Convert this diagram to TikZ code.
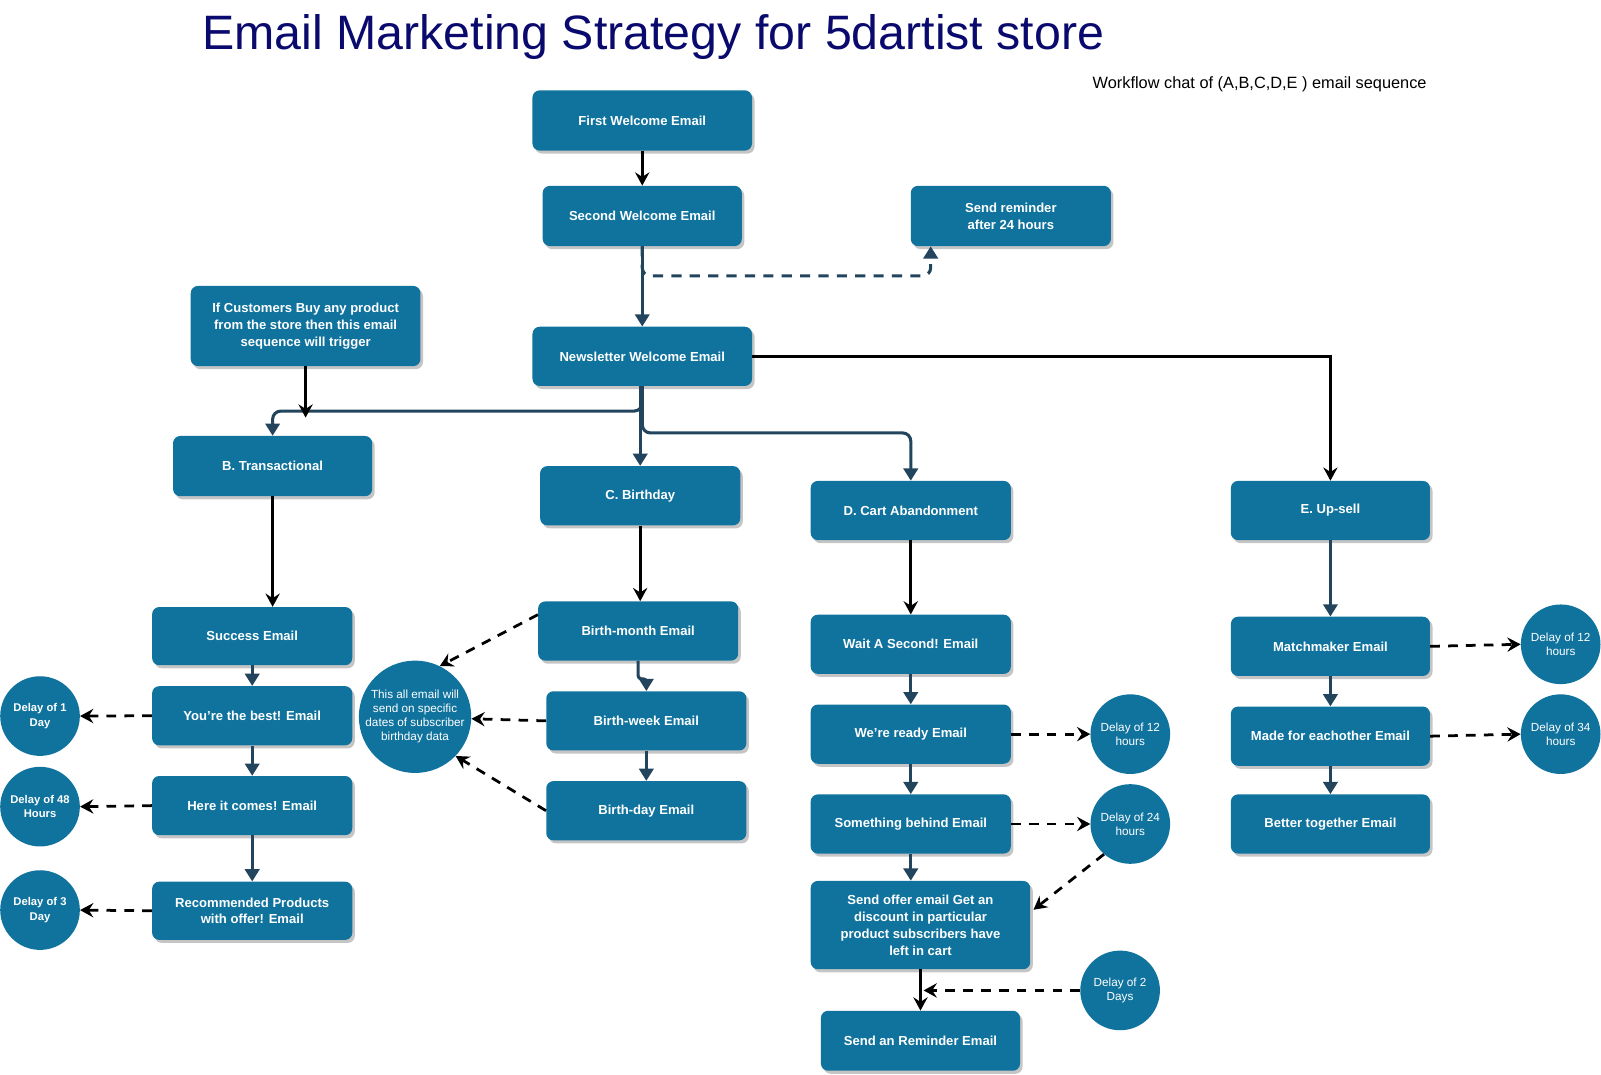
\documentclass[tikz,border=0pt]{standalone}
\usepackage{fontspec}
\setmainfont{Liberation Sans}
\usetikzlibrary{arrows.meta,shadows,calc}
\definecolor{boxblue}{HTML}{10739E}
\definecolor{slate}{HTML}{23445D}
\definecolor{titleblue}{RGB}{10,10,110}
\newcommand\bxf{\fontsize{12.8}{16.5}\selectfont\bfseries}
\newcommand\cif{\fontsize{11.5}{13.8}\selectfont}
\newcommand\cbf{\fontsize{11}{13.8}\selectfont\bfseries}
\tikzset{
  box/.style={fill=boxblue, rounded corners=7pt, text=white, font=\bxf, align=center,
    inner sep=0pt, minimum width=196pt, minimum height=58pt,
    drop shadow={shadow xshift=2.5pt, shadow yshift=-3pt, fill=black!45, opacity=0.5}},
  circ/.style={circle, fill=boxblue, text=white, minimum size=78pt, inner sep=0pt, align=center, font=\cif},
  circb/.style={circ, font=\cbf},
  bk/.style={draw=black, line width=2.7pt, -{Stealth[length=13pt,width=14pt,inset=4.5pt]}},
  bkdash/.style={bk, dash pattern=on 9.5pt off 8pt},
  sl/.style={draw=slate, line width=3pt, -{Triangle[length=12pt,width=14pt]}},
  sldash/.style={sl, dash pattern=on 10pt off 8pt},
}
\begin{document}
\begin{tikzpicture}[x=1pt,y=-1pt]
\useasboundingbox (0,0) rectangle (1568,1052);
% titles
\node[anchor=base west, inner sep=0pt, text=titleblue, font=\fontsize{47.3}{56}\selectfont] (title) at (198,48) {Email Marketing Strategy for 5dartist store};
\node[anchor=west, inner sep=0pt, font=\fontsize{16}{19}\selectfont] (sub) at (1070,83) {Workflow chat of (A,B,C,D,E ) email sequence};
% top boxes
\node[box, minimum width=215pt, minimum height=59pt] (fw) at (629,118) {First Welcome Email};
\node[box, minimum width=195pt, minimum height=59pt] (sw) at (629,211.5) {Second Welcome Email};
\node[box, minimum height=59pt] (rem) at (990,211.5) {Send reminder\\after 24 hours};
\node[box, minimum width=225pt, minimum height=78.5pt] (ifc) at (299.3,319.3) {If Customers Buy any product\\from the store then this email\\sequence will trigger};
\node[box, minimum width=215pt] (nl) at (629,349) {Newsletter Welcome Email};
% category boxes
\node[box, minimum width=195pt, minimum height=59pt] (bt) at (267,456.5) {B. Transactional};
\node[box] (cb) at (627,485.5) {C. Birthday};
\node[box] (dc) at (892,500) {D. Cart Abandonment};
\node[box, minimum width=195pt] (eu) at (1303,500) {E. Up-sell};
% B column
\node[box, minimum height=57pt] (se) at (247,623) {Success Email};
\node[box] (yb) at (247,701) {You’re the best! Email};
\node[box] (hc) at (247,789) {Here it comes! Email};
\node[box, minimum height=57pt] (rp) at (247,892) {Recommended Products\\with offer! Email};
\node[circb] (d1) at (39.2,701.3) {Delay of 1\\Day};
\node[circb] (d48) at (39.2,790) {Delay of 48\\Hours};
\node[circb] (d3) at (39.2,891.3) {Delay of 3\\Day};
% C column
\node[box] (bm) at (625,618) {Birth-month Email};
\node[box] (bw) at (633,706) {Birth-week Email};
\node[box] (bd) at (633,794) {Birth-day Email};
\node[circ, minimum size=107pt] (bc) at (406.5,702) {This all email will\\send on specific\\dates of subscriber\\birthday data};
% D column
\node[box] (wa) at (892,631) {Wait A Second! Email};
\node[box] (wr) at (892,719) {We’re ready Email};
\node[box] (sb) at (892,807) {Something behind Email};
\node[box, minimum width=215pt, minimum height=86.5pt] (so) at (901.5,906) {Send offer email Get an\\discount in particular\\product subscribers have\\left in cart};
\node[box, minimum width=195pt, minimum height=58.7pt] (rm) at (901.5,1019.3) {Send an Reminder Email};
\node[circ] (dh12) at (1107,719) {Delay of 12\\hours};
\node[circ] (dh24) at (1107,807) {Delay of 24\\hours};
\node[circ] (dd2) at (1097,970) {Delay of 2\\Days};
% E column
\node[box, minimum width=195pt] (mm) at (1303,633) {Matchmaker Email};
\node[box, minimum width=195pt] (mf) at (1303,721) {Made for eachother Email};
\node[box, minimum width=195pt] (bg) at (1303,807) {Better together Email};
\node[circ] (de12) at (1528.5,631) {Delay of 12\\hours};
\node[circ] (de34) at (1528.5,719) {Delay of 34\\hours};
% connectors top
\draw[bk] (fw) -- (sw);
\draw[sl] (sw) -- (nl);
\draw[sldash, rounded corners=8pt] (sw.south) |- ($(rem.south)+(-78.5,29)$) -- ($(rem.south)+(-78.5,0)$);
\draw[sl, rounded corners=8pt] (nl.south) |- (bt.north |- 0,402.6) -- (bt.north);
\draw[bk] (ifc.south) -- (ifc.south |- 0,409);
\draw[sl] (cb.north |- nl.south) -- (cb.north);
\draw[sl, rounded corners=8pt] (nl.south) |- (dc.north |- 0,424) -- (dc.north);
\draw[bk] (nl.east) -| (eu.north);
% B connectors
\draw[bk] (bt.south) -- (bt.south |- se.north);
\draw[sl] (se) -- (yb);
\draw[sl] (yb) -- (hc);
\draw[sl] (hc) -- (rp);
\draw[bkdash] (yb.west) -- (d1.east);
\draw[bkdash] (hc.west) -- (d48.east);
\draw[bkdash] (rp.west) -- (d3.east);
% C connectors
\draw[bk] (cb.south) -- (cb.south |- bm.north);
\draw[sl, rounded corners=3pt] (bm.south) |- ($(bw.north)+(0,-12)$) -- (bw.north);
\draw[sl] (bw) -- (bd);
\draw[bkdash] ($(bm.west)+(0,-16)$) -- (bc.64);
\draw[bkdash] (bw.west) -- (bc.-2);
\draw[bkdash] (bd.west) -- (bc.-44);
% D connectors
\draw[bk] (dc) -- (wa);
\draw[sl] (wa) -- (wr);
\draw[sl] (wr) -- (sb);
\draw[sl] (sb.south) -- (sb.south |- so.north);
\draw[bkdash] (wr.east) -- (dh12.west);
\draw[bkdash] (sb.east) -- (dh24.west);
\draw[bkdash] (dh24.229) -- ($(so.east)+(3,-15)$);
\draw[bk] (so.south) -- (rm.north);
\draw[bkdash] (dd2.west) -- ($(so.south |- dd2.west)+(3,0)$);
% E connectors
\draw[sl] (eu) -- (mm);
\draw[sl] (mm) -- (mf);
\draw[sl] (mf) -- (bg);
\draw[bkdash] (mm.east) -- (de12.west);
\draw[bkdash] (mf.east) -- (de34.west);
\end{tikzpicture}
\end{document}
